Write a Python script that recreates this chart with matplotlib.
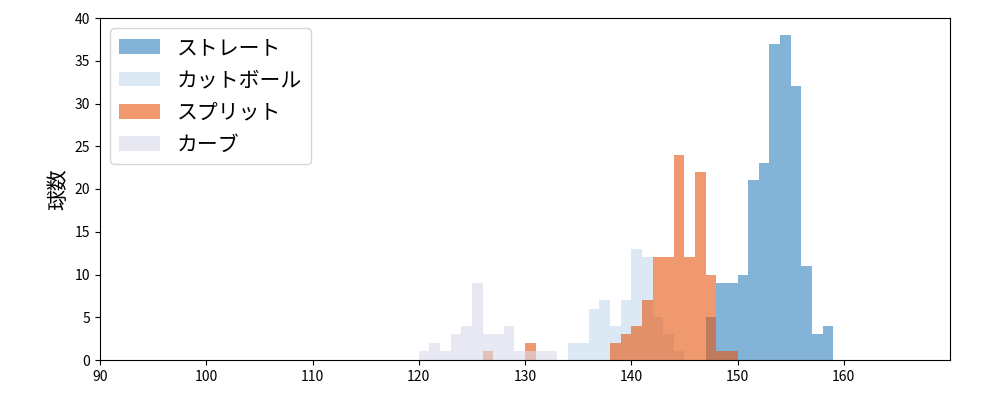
import matplotlib
matplotlib.use("Agg")
import matplotlib.pyplot as plt
import numpy as np

plt.rcParams['font.family'] = ['Noto Sans CJK JP', 'DejaVu Sans']

straight_bins = [147,148,149,150,151,152,153,154,155,156,157,158]
straight_cnt  = [5,9,9,10,21,23,37,38,32,11,3,4]
cut_bins = [134,135,136,137,138,139,140,141,142,143,144]
cut_cnt  = [2,2,6,7,4,7,13,12,5,3,1]
split_bins = [126,130,138,139,140,141,142,143,144,145,146,147,148,149]
split_cnt  = [1,2,2,3,4,7,12,12,24,12,22,10,1,1]
curve_bins = [120,121,122,123,124,125,126,127,128,129,130,131,132]
curve_cnt  = [1,2,1,3,4,9,3,3,4,1,1,1,1]

labels = ['ストレート', 'カットボール', 'スプリット', 'カーブ']
colors = ['#3182bd', '#c6dbef', '#e6550d', '#dadaeb']

fig = plt.figure(figsize=(10, 4), dpi=100)
ax = fig.add_axes([0.1, 0.1, 0.85, 0.855])
for b, c, lab, col in zip([straight_bins, cut_bins, split_bins, curve_bins],
                          [straight_cnt, cut_cnt, split_cnt, curve_cnt], labels, colors):
    b = np.array(b)
    ax.hist(b + 0.5, bins=np.arange(b.min(), b.max() + 2), weights=c,
            color=col, alpha=0.6, label=lab)
ax.set_xlim(90, 170)
ax.set_ylim(0, 40)
ax.set_xticks(range(90, 170, 10))
ax.set_ylabel('球数', fontsize=15)
ax.legend(loc='upper left', fontsize=15)
fig.savefig('out.png')
